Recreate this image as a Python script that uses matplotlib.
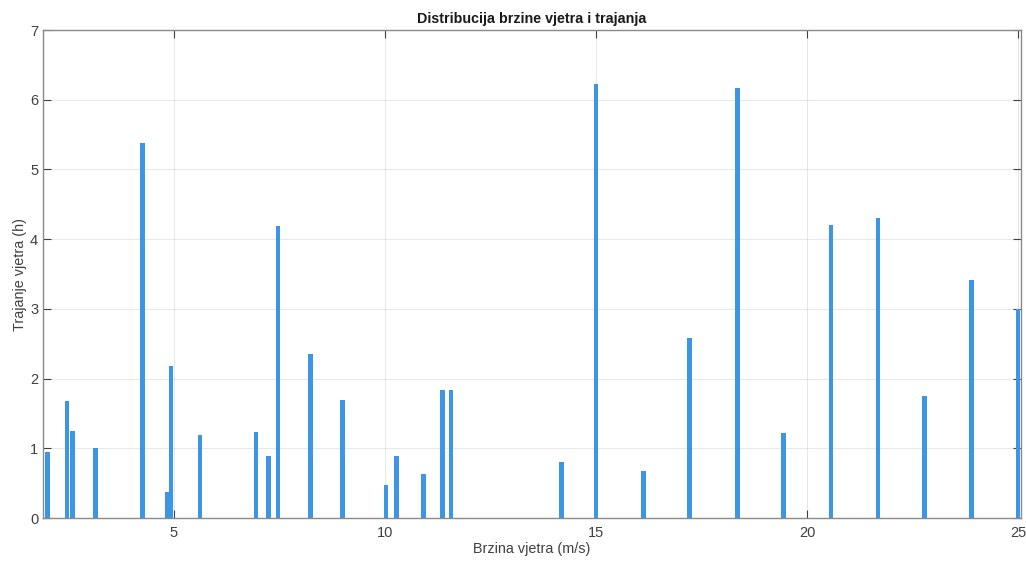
import matplotlib.pyplot as plt

plt.rcParams["font.family"] = ["Liberation Sans", "DejaVu Sans"]

# brzina vjetra (m/s) i trajanje (h)
brzina = [2.0, 2.47, 2.6, 3.15, 4.25, 4.84, 4.93, 5.62, 6.95, 7.24, 7.47,
          8.24, 8.99, 10.03, 10.27, 10.92, 11.36, 11.57, 14.18, 15.0, 16.12,
          17.22, 18.35, 19.45, 20.57, 21.68, 22.79, 23.9, 25.0]
trajanje = [0.945, 1.676, 1.242, 1.0, 5.38, 0.373, 2.18, 1.186, 1.23, 0.894,
            4.185, 2.35, 1.70, 0.47, 0.884, 0.63, 1.84, 1.84, 0.80, 6.22, 0.67,
            2.58, 6.17, 1.216, 4.205, 4.31, 1.75, 3.42, 3.0]

xticks = [5, 10, 15, 20, 25]
yticks = [0, 1, 2, 3, 4, 5, 6, 7]

fig = plt.figure(figsize=(10.26, 5.61), dpi=100)
ax = fig.add_axes([0.0419, 0.0766, 0.9532, 0.8699])

ax.bar(brzina, trajanje, width=0.11, color="#3d95e6", zorder=3)

ax.set_xlim(1.9, 25.07)
ax.set_ylim(0, 7)
ax.set_xticks(xticks)
ax.set_yticks(yticks)
ax.grid(True, color="#262626", alpha=0.1, linewidth=0.8, zorder=0)

ax.tick_params(direction="in", length=6, width=0.8, colors="#404040",
               labelsize=10.5, top=True, right=True)
ax.tick_params(axis="x", pad=6)
for s in ax.spines.values():
    s.set_color("#8a8a8a")
    s.set_linewidth(1.0)
    s.set_zorder(4)

ax.set_title("Distribucija brzine vjetra i trajanja", fontsize=10.3,
             fontweight="bold", color="#1a1a1a", pad=5)
ax.set_xlabel("Brzina vjetra (m/s)", fontsize=10.4, color="#404040", labelpad=1)
ax.set_ylabel("Trajanje vjetra (h)", fontsize=10.4, color="#404040", labelpad=2)

fig.savefig("out.png", dpi=100, facecolor="white")
